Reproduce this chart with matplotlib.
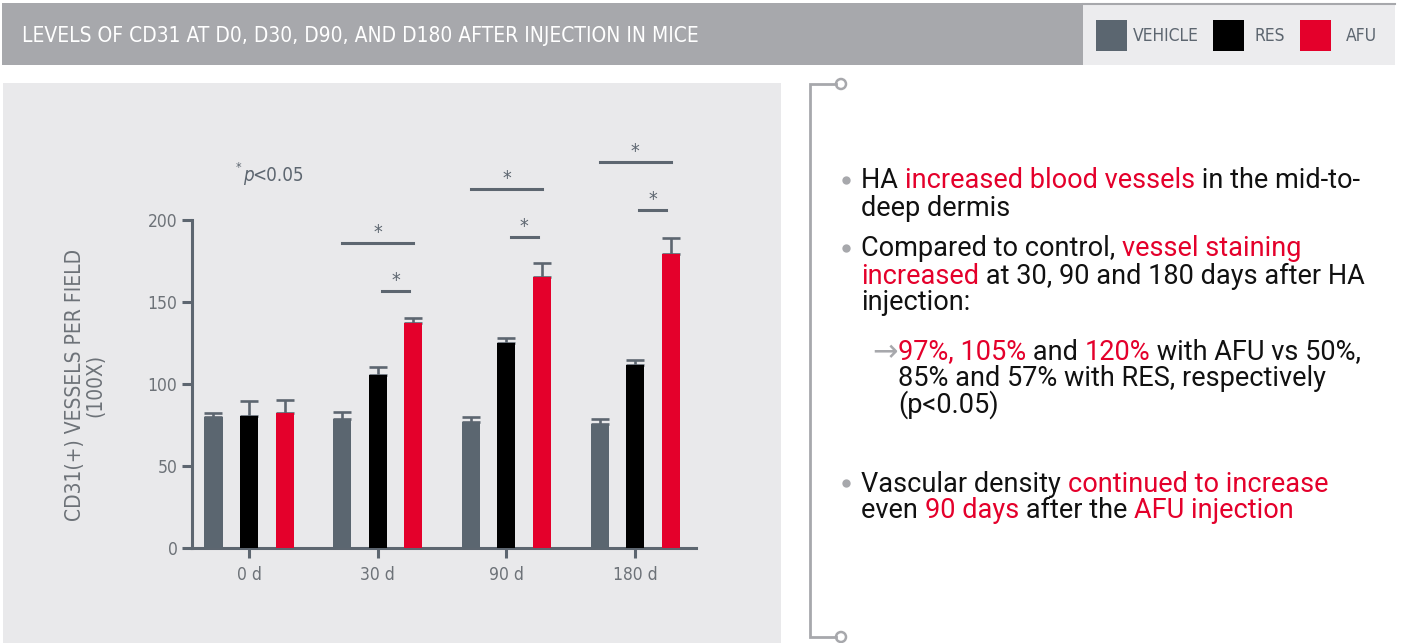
import matplotlib
matplotlib.use("Agg")
import matplotlib.pyplot as plt
from matplotlib.patches import Rectangle, Circle
from matplotlib.font_manager import FontProperties
import numpy as np

# ------------------------------------------------------
# Data
# ------------------------------------------------------
days = ["0 d", "30 d", "90 d", "180 d"]
series = ["VEHICLE", "RES", "AFU"]
vehicle = [80.1, 78.7, 76.8, 75.6]
res = [80.5, 105.5, 125.0, 111.6]
afu = [82.3, 137.2, 165.2, 179.3]
vehicle_err = [2.2, 4.2, 2.9, 3.1]
res_err = [9.1, 5.1, 3.2, 3.2]
afu_err = [7.9, 2.8, 8.4, 9.9]

# significance bars: group index, height of VEHICLE-AFU bar, height of RES-AFU bar
sig_groups = [1, 2, 3]
sig_long = [185.8, 218.7, 235.6]
sig_short = [156.5, 189.5, 206.3]

title = "LEVELS OF CD31 AT D0, D30, D90, AND D180 AFTER INJECTION IN MICE"
ylabel = "CD31(+) VESSELS PER FIELD\n(100X)"

RED = "#E4002B"
INK = "#111111"
text_lines = [
    ("bullet", [("HA ", INK), ("increased blood vessels", RED), (" in the mid-to-", INK)]),
    ("plain", [("deep dermis", INK)]),
    ("bullet", [("Compared to control, ", INK), ("vessel staining", RED)]),
    ("plain", [("increased", RED), (" at 30, 90 and 180 days after HA", INK)]),
    ("plain", [("injection:", INK)]),
    ("arrow", [("97%, 105%", RED), (" and ", INK), ("120%", RED), (" with AFU vs 50%,", INK)]),
    ("indent", [("85% and 57% with RES, respectively", INK)]),
    ("indent", [("(p<0.05)", INK)]),
    ("bullet", [("Vascular density ", INK), ("continued to increase", RED)]),
    ("plain", [("even ", INK), ("90 days", RED), (" after the ", INK), ("AFU injection", RED)]),
]
line_y = [181, 208, 249, 276, 302, 352, 378, 405, 484, 511]

# ------------------------------------------------------
# Styles
# ------------------------------------------------------
colors = ["#5B6670", "#000000", RED]
AX_GRAY = "#5D6670"
LBL_GRAY = "#6D7278"
HEAD_GRAY = "#A7A8AC"
NARROW = dict(family="DejaVu Sans", stretch="condensed")
BODY = "Roboto"

W, H = 1401, 643
fig = plt.figure(figsize=(W / 100, H / 100), dpi=100)
fig.patch.set_facecolor("white")

bg = fig.add_axes([0, 0, 1, 1])
bg.set_xlim(0, W)
bg.set_ylim(H, 0)
bg.axis("off")

bg.add_patch(Rectangle((2, 3), 1081, 62, color=HEAD_GRAY, lw=0))
bg.add_patch(Rectangle((1083, 4), 312, 61, color="#ECECEE", lw=0))
bg.plot([1083, 1395], [4, 4], color=HEAD_GRAY, lw=1.5)
bg.add_patch(Rectangle((3, 83), 778, 560, color="#E9E9EB", lw=0))

bg.plot([836, 810, 810, 836], [84, 84, 637, 637], color=HEAD_GRAY, lw=2, solid_joinstyle="miter")
for cy in (84, 637):
    bg.add_patch(Circle((841, cy), 5, facecolor="white", edgecolor=HEAD_GRAY, lw=1.8))

bg.text(22, 36, title, color="white", fontsize=15, va="center", **NARROW)

leg_x = [1096, 1213, 1300]
leg_tx = [1133, 1254, 1346]
for name, c, lx, tx in zip(series, colors, leg_x, leg_tx):
    bg.add_patch(Rectangle((lx, 20), 31, 31, color=c, lw=0))
    bg.text(tx, 36, name, color=AX_GRAY, fontsize=12.5, va="center", **NARROW)

bg.text(85, 385, ylabel, rotation=90, ha="center", va="center", multialignment="center",
        color=LBL_GRAY, fontsize=15, linespacing=1.05, **NARROW)

bg.text(236, 168, "*", color=AX_GRAY, fontsize=9, va="center", **NARROW)
bg.text(243, 181, "p", color=AX_GRAY, fontsize=13.5, style="italic", va="baseline", **NARROW)
bg.text(252, 181, "<0.05", color=AX_GRAY, fontsize=13.5, va="baseline", **NARROW)

# ------------------------------------------------------
# Bar chart
# ------------------------------------------------------
ax = fig.add_axes([192 / W, 1 - 548 / H, 504 / W, 328 / H])
ax.set_facecolor("none")
x = np.arange(len(days))
offsets = [-0.276, 0.0, 0.276]
width = 0.14
for vals, errs, c, off in zip([vehicle, res, afu], [vehicle_err, res_err, afu_err], colors, offsets):
    ax.bar(x + off, vals, width, color=c, zorder=3)
    ax.errorbar(x + off, vals, yerr=[np.zeros(len(vals)), errs], fmt="none", ecolor=AX_GRAY,
                elinewidth=1.9, capsize=6.5, capthick=1.9, zorder=2)

for g, hl, hs in zip(sig_groups, sig_long, sig_short):
    ax.plot([g + offsets[0], g + offsets[2]], [hl, hl], color=AX_GRAY, lw=2.2, clip_on=False)
    ax.text(g, hl + 3, "*", ha="center", va="baseline", color=AX_GRAY, fontsize=14,
            clip_on=False, **NARROW)
    mid = g + offsets[2] / 2
    ax.plot([mid - 0.105, mid + 0.105], [hs, hs], color=AX_GRAY, lw=2.2, clip_on=False)
    ax.text(mid, hs + 3, "*", ha="center", va="baseline", color=AX_GRAY, fontsize=14,
            clip_on=False, **NARROW)

ax.set_xlim(-0.443, 3.473)
ax.set_ylim(0, 200)
ax.set_xticks(x)
ax.set_xticklabels(days)
ax.set_yticks([0, 50, 100, 150, 200])
for side in ("top", "right"):
    ax.spines[side].set_visible(False)
for side in ("left", "bottom"):
    ax.spines[side].set_color(AX_GRAY)
    ax.spines[side].set_linewidth(2.2)
ax.tick_params(color=AX_GRAY, width=2.2, length=7, labelcolor=LBL_GRAY, labelsize=12.5)
ax.tick_params(axis="x", pad=6)
for lab in ax.get_xticklabels() + ax.get_yticklabels():
    lab.set_fontstretch("condensed")

# ------------------------------------------------------
# Right-hand text
# ------------------------------------------------------
renderer = fig.canvas.get_renderer()
fp = FontProperties(family=BODY, size=19.5)
fp_arrow = FontProperties(family=["DejaVu Sans"], size=22)


def text_w(s):
    w, h, d = renderer.get_text_width_height_descent(s, fp, ismath=False)
    return w


x_text = {"bullet": 861, "plain": 861, "arrow": 898, "indent": 898}
for (kind, segs), y in zip(text_lines, line_y):
    x0 = x_text[kind]
    if kind == "bullet":
        bg.plot(846, y - 1, "o", color=HEAD_GRAY, markersize=6, mec="none")
    if kind == "arrow":
        bg.text(898, y + 1, "\u2192", color=HEAD_GRAY, fontproperties=fp_arrow, ha="right", va="center")
    prefix = ""
    for s, c in segs:
        dx = text_w(prefix + "l") - text_w("l") if prefix else 0
        bg.text(x0 + dx, y, s, color=c, fontproperties=fp, va="center")
        prefix += s

fig.savefig("out.png", dpi=100, facecolor="white")
